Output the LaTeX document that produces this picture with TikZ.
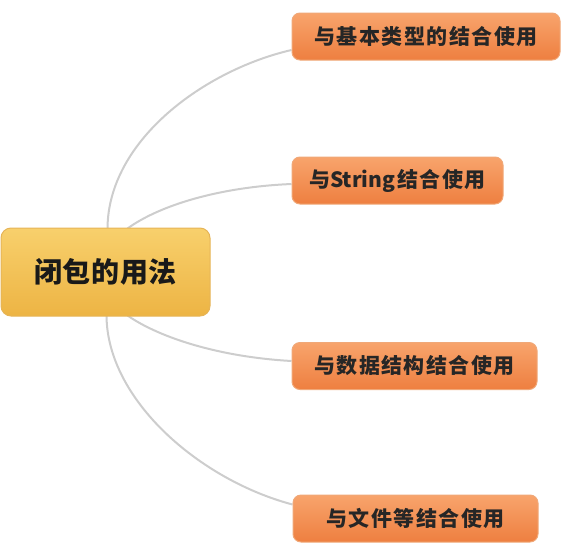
\documentclass[tikz,border=0pt]{standalone}
\usepackage{fontspec}
\newfontfamily\cjk{Noto Sans CJK SC}[LetterSpace=7]
\newfontfamily\cjkc{Noto Sans CJK SC}[LetterSpace=2]
\newfontfamily\cjkl{Noto Sans CJK SC}[LetterSpace=0]
\usetikzlibrary{backgrounds}
\definecolor{orTop}{HTML}{F8A46C}
\definecolor{orBot}{HTML}{EE7F40}
\definecolor{orLine}{HTML}{F0A878}
\definecolor{goTop}{HTML}{F8D06C}
\definecolor{goBot}{HTML}{EDB444}
\definecolor{goLine}{HTML}{E6B457}
\definecolor{link}{HTML}{CDCDCD}
\tikzset{
  leaf/.style={rounded corners=8pt, draw=orLine, line width=1pt,
    top color=orTop, bottom color=orBot, minimum height=47pt,
    inner sep=0pt, font=\cjk\bfseries\fontsize{21}{21}\selectfont, text=black!85},
  root/.style={rounded corners=10pt, draw=goLine, line width=1pt,
    top color=goTop, bottom color=goBot, minimum width=209pt, minimum height=88pt,
    inner sep=0pt, font=\cjkc\bfseries\fontsize{28}{28}\selectfont, text=black!90},
  conn/.style={draw=link, line width=2pt}
}
\begin{document}
\begin{tikzpicture}[x=1pt,y=-1pt]
\useasboundingbox (0,0) rectangle (572,546);
\node[root] (c) at (105.5,272) {闭包的用法};
\node[leaf, minimum width=268pt] (b1) at (426,36.5) {与基本类型的结合使用};
\node[leaf, minimum width=211pt] (b2) at (397.5,180.5) {与{\cjkl\bfseries String\kern2pt}结合使用};
\node[leaf, minimum width=245pt] (b3) at (414.5,366) {与数据结构结合使用};
\node[leaf, minimum width=245pt] (b4) at (415.5,518.5) {与文件等结合使用};
\begin{pgfonlayer}{background}
\path[conn] ([xshift=107pt,yshift=-1pt]c.north west) .. controls (108,140) and (205,70) .. ([yshift=-13.5pt]b1.west);
\path[conn] ([xshift=127pt,yshift=-1pt]c.north west) .. controls (160,205) and (220,187) .. ([yshift=-3.5pt]b2.west);
\path[conn] ([xshift=127pt,yshift=1pt]c.south west) .. controls (160,338) and (220,357) .. ([yshift=5pt]b3.west);
\path[conn] ([xshift=106pt,yshift=1pt]c.south west) .. controls (107,400) and (200,480) .. ([yshift=14pt]b4.west);
\end{pgfonlayer}
\end{tikzpicture}
\end{document}
